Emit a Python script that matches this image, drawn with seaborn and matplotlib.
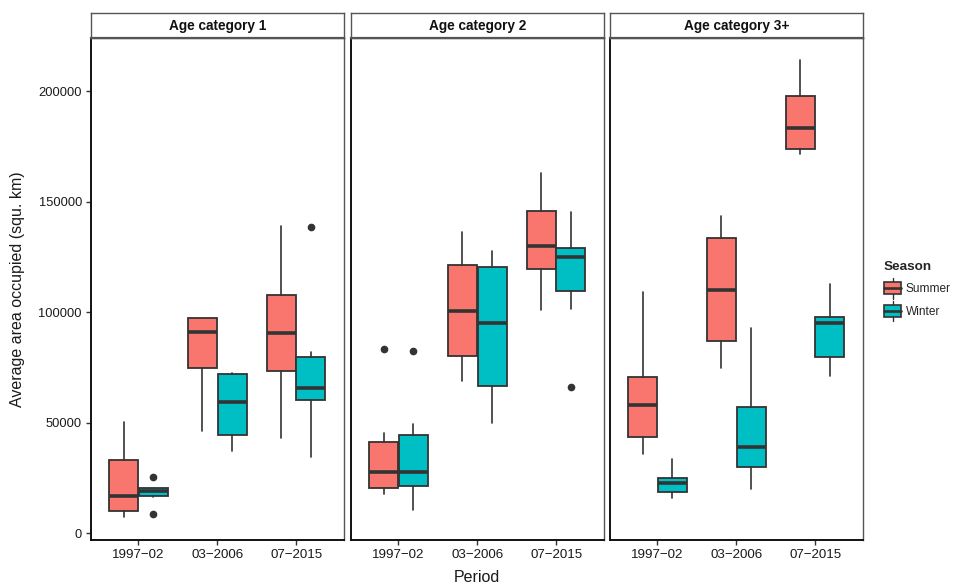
import matplotlib
matplotlib.use("Agg")
import matplotlib.pyplot as plt
import seaborn as sns
from matplotlib.patches import Rectangle, Patch
from matplotlib.lines import Line2D
from matplotlib.legend_handler import HandlerBase

# ---------------- data ----------------
periods = ["1997-02", "03-2006", "07-2015"]
seasons = ["Summer", "Winter"]
facets = ["Age category 1", "Age category 2", "Age category 3+"]

# each row: [lower whisker, Q1, median, Q3, upper whisker] per period
cat1_summer = [[7300, 10000, 16900, 33300, 50300],
               [46200, 74800, 91000, 97300, 97300],
               [43100, 73300, 90500, 108000, 139100]]
cat1_winter = [[16200, 16900, 19300, 20300, 20300],
               [37200, 44500, 59200, 72100, 72400],
               [34700, 60400, 65800, 79900, 81900]]
cat2_summer = [[17800, 20600, 27900, 41100, 45200],
               [68900, 80400, 100500, 121500, 136500],
               [101000, 119800, 129900, 145800, 162800]]
cat2_winter = [[10700, 21300, 27900, 44300, 49400],
               [49900, 66500, 95300, 120600, 127600],
               [101300, 109600, 125000, 129300, 145500]]
cat3_summer = [[36000, 43500, 57900, 70600, 109100],
               [75000, 86800, 110300, 133500, 143700],
               [171700, 173800, 183400, 198000, 214000]]
cat3_winter = [[16100, 18800, 22700, 24900, 33800],
               [20100, 29800, 39100, 57200, 93100],
               [71200, 79900, 95300, 98000, 112900]]

# outliers per period
cat1_summer_out = [[], [], []]
cat1_winter_out = [[25500, 8800], [], [138700]]
cat2_summer_out = [[83200], [], []]
cat2_winter_out = [[82600], [], [66000]]
cat3_summer_out = [[], [], []]
cat3_winter_out = [[], [], []]

y_ticks = [0, 50000, 100000, 150000, 200000]
season_colors = ["#F8766D", "#00BFC4"]

panel_data = [
    (cat1_summer, cat1_summer_out, cat1_winter, cat1_winter_out),
    (cat2_summer, cat2_summer_out, cat2_winter, cat2_winter_out),
    (cat3_summer, cat3_summer_out, cat3_winter, cat3_winter_out),
]

# ---------------- style ----------------
sns.set_theme(style="white")
plt.rcParams["font.family"] = ["Liberation Sans", "DejaVu Sans"]
palette = sns.color_palette(season_colors)

W, H = 955, 587
fig = plt.figure(figsize=(W / 100, H / 100), dpi=100)

edge = "#333333"
txt = "#1a1a1a"

panel_x = [(91, 343.5), (351, 603.5), (610, 862.5)]
top_px, bot_px, strip_top_px = 37.5, 540, 13.3


def fx(px):
    return px / W


def fy(py):
    return 1 - py / H


# y-limits as ggplot: data range expanded by 5 %
all_vals = []
for s, so, w, wo in panel_data:
    for grp in (s, w):
        for r in grp:
            all_vals += r
    for grp in (so, wo):
        for r in grp:
            all_vals += r
ymin, ymax = min(all_vals), max(all_vals)
pad = 0.05 * (ymax - ymin)
ylim = (ymin - pad, ymax + pad)

dodge = 0.1875
bw = 0.375

for i, (x0, x1) in enumerate(panel_x):
    ax = fig.add_axes([fx(x0), fy(bot_px), fx(x1 - x0), (bot_px - top_px) / H])
    summer, summer_out, winter, winter_out = panel_data[i]
    for k, (vals, outs) in enumerate([(summer, summer_out), (winter, winter_out)]):
        stats = []
        for j in range(len(periods)):
            lo, q1, med, q3, hi = vals[j]
            stats.append(dict(whislo=lo, q1=q1, med=med, q3=q3, whishi=hi,
                              fliers=outs[j], label=periods[j]))
        pos = [j + (-dodge if k == 0 else dodge) for j in range(len(periods))]
        ax.bxp(stats, positions=pos, widths=bw * 0.98, patch_artist=True,
               showcaps=False, manage_ticks=False,
               boxprops=dict(facecolor=palette[k], edgecolor=edge, linewidth=1.3),
               medianprops=dict(color=edge, linewidth=2.6, solid_capstyle="butt"),
               whiskerprops=dict(color=edge, linewidth=1.2),
               flierprops=dict(marker="o", markerfacecolor=edge, markeredgecolor=edge,
                               markersize=4.5))
    ax.set_xlim(-0.6, 2.6)
    ax.set_ylim(*ylim)
    ax.set_xticks(range(len(periods)))
    ax.set_xticklabels([p.replace("-", "\u2212") for p in periods],
                       fontsize=9.6, color=txt)
    ax.tick_params(axis="both", length=3.5, width=1, color=edge, pad=3,
                   bottom=True, left=(i == 0))
    ax.set_yticks(y_ticks)
    if i == 0:
        ax.set_yticklabels([str(t) for t in y_ticks], fontsize=9.3, color=txt)
    else:
        ax.set_yticklabels([])
    for side in ["top", "right"]:
        ax.spines[side].set_color("#555555")
        ax.spines[side].set_linewidth(1.0)
    for side in ["left", "bottom"]:
        ax.spines[side].set_color("#111111")
        ax.spines[side].set_linewidth(1.4)
    ax.grid(False)
    ax.set_facecolor("white")

    # strip
    sax = fig.add_axes([fx(x0), fy(top_px), fx(x1 - x0), (top_px - strip_top_px) / H])
    sax.set_xticks([])
    sax.set_yticks([])
    sax.set_facecolor("white")
    for sp in sax.spines.values():
        sp.set_color("#555555")
        sp.set_linewidth(1.0)
    sax.spines["bottom"].set_linewidth(1.6)
    sax.text(0.5, 0.48, facets[i], ha="center", va="center", fontsize=9.8,
             fontweight="bold", color="#111111", transform=sax.transAxes)

fig.text(fx(18), fy((top_px + bot_px) / 2), "Average area occupied (squ. km)",
         rotation=90, ha="center", va="center", fontsize=11.5, color=txt)
fig.text(fx((91 + 863) / 2), fy(577), "Period", ha="center", va="center",
         fontsize=11.5, color=txt)


class BoxKeyHandler(HandlerBase):
    def create_artists(self, legend, orig_handle, xdescent, ydescent, width,
                       height, fontsize, trans):
        fc = orig_handle.get_facecolor()
        cx = xdescent + width / 2
        r = Rectangle((xdescent + 0.5, -ydescent + 0.5), width - 1, height - 1,
                      facecolor=fc, edgecolor=edge, linewidth=1.2, transform=trans)
        m = Line2D([xdescent + 0.5, xdescent + width - 0.5],
                   [-ydescent + height / 2] * 2, color=edge, linewidth=1.9,
                   transform=trans)
        w1 = Line2D([cx, cx], [-ydescent - 2.5, -ydescent + 0.5], color=edge,
                    linewidth=1.0, transform=trans)
        w2 = Line2D([cx, cx], [-ydescent + height - 0.5, -ydescent + height + 2.5],
                    color=edge, linewidth=1.0, transform=trans)
        return [w1, w2, r, m]


handles = [Patch(facecolor=palette[k], label=seasons[k]) for k in range(2)]
leg = fig.legend(handles=handles, labels=seasons, title="Season",
                 loc="upper left", bbox_to_anchor=(fx(879), fy(256)),
                 frameon=False, fontsize=8.6, title_fontsize=9.7,
                 handler_map={Patch: BoxKeyHandler()},
                 handlelength=1.5, handleheight=1.35, handletextpad=0.35,
                 labelspacing=0.75, borderaxespad=0)
leg.get_title().set_fontweight("bold")
leg._legend_box.align = "left"

fig.savefig("out.png", dpi=100, facecolor="white")
